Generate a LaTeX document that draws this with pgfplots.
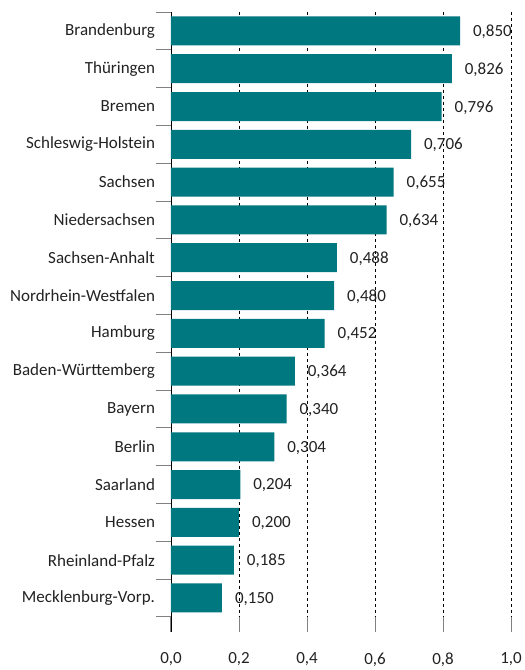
\documentclass[border=0pt]{standalone}
\usepackage{fontspec}
\setmainfont{Carlito}
\usepackage{pgfplots}
\pgfplotsset{compat=1.18}
\definecolor{barteal}{RGB}{0,120,128}
\definecolor{txt}{RGB}{34,34,34}
\begin{document}
\begin{tikzpicture}
\useasboundingbox (-171bp,-38bp) rectangle (354bp,632bp);
\begin{axis}[
  at={(0,0)}, anchor=south west,
  scale only axis,
  width=340bp, height=620bp,
  xmin=0, xmax=1,
  ymin=0.5, ymax=16.9,
  y dir=reverse,
  axis lines*=left,
  x axis line style={draw=none},
  y axis line style={black, line width=0.8pt},
  xtick={0,0.2,...,1.0},
  xtick align=inside,
  ytick align=outside,
  major tick length=15bp,
  minor tick length=15bp,
  major x tick style={gray, line width=1pt},
  major y tick style={draw=none},
  minor y tick style={gray, line width=1pt},
  ytick={1,...,16},
  minor ytick={0.5,1.5,...,16.5},
  yticklabels={Brandenburg,Thüringen,Bremen,Schleswig-Holstein,Sachsen,Niedersachsen,Sachsen-Anhalt,Nordrhein-Westfalen,Hamburg,Baden-Württemberg,Bayern,Berlin,Saarland,Hessen,Rheinland-Pfalz,Mecklenburg-Vorp.},
  ticklabel style={text=txt, font=\fontsize{17bp}{20bp}\selectfont},
  yticklabel style={xshift=2.5bp},
  xticklabel style={yshift=-17bp, /pgf/number format/.cd, use comma, fixed, fixed zerofill, precision=1},
  /pgf/number format/assume math mode=true,
  xmajorgrids,
  major x grid style={black, dashed, line width=0.6pt},
  xbar,
  bar width=29bp,
  nodes near coords,
  nodes near coords style={anchor=west, xshift=9.5bp, yshift=-1bp, text=txt, font=\fontsize{17bp}{20bp}\selectfont, /pgf/number format/.cd, use comma, fixed, fixed zerofill, precision=3},
  clip=false,
]
\addplot[fill=barteal, draw=none] coordinates {
 (0.850,1) (0.826,2) (0.796,3) (0.706,4) (0.655,5) (0.634,6) (0.488,7) (0.480,8)
 (0.452,9) (0.364,10) (0.340,11) (0.304,12) (0.204,13) (0.200,14) (0.185,15) (0.150,16)
};
\end{axis}
\end{tikzpicture}
\end{document}
